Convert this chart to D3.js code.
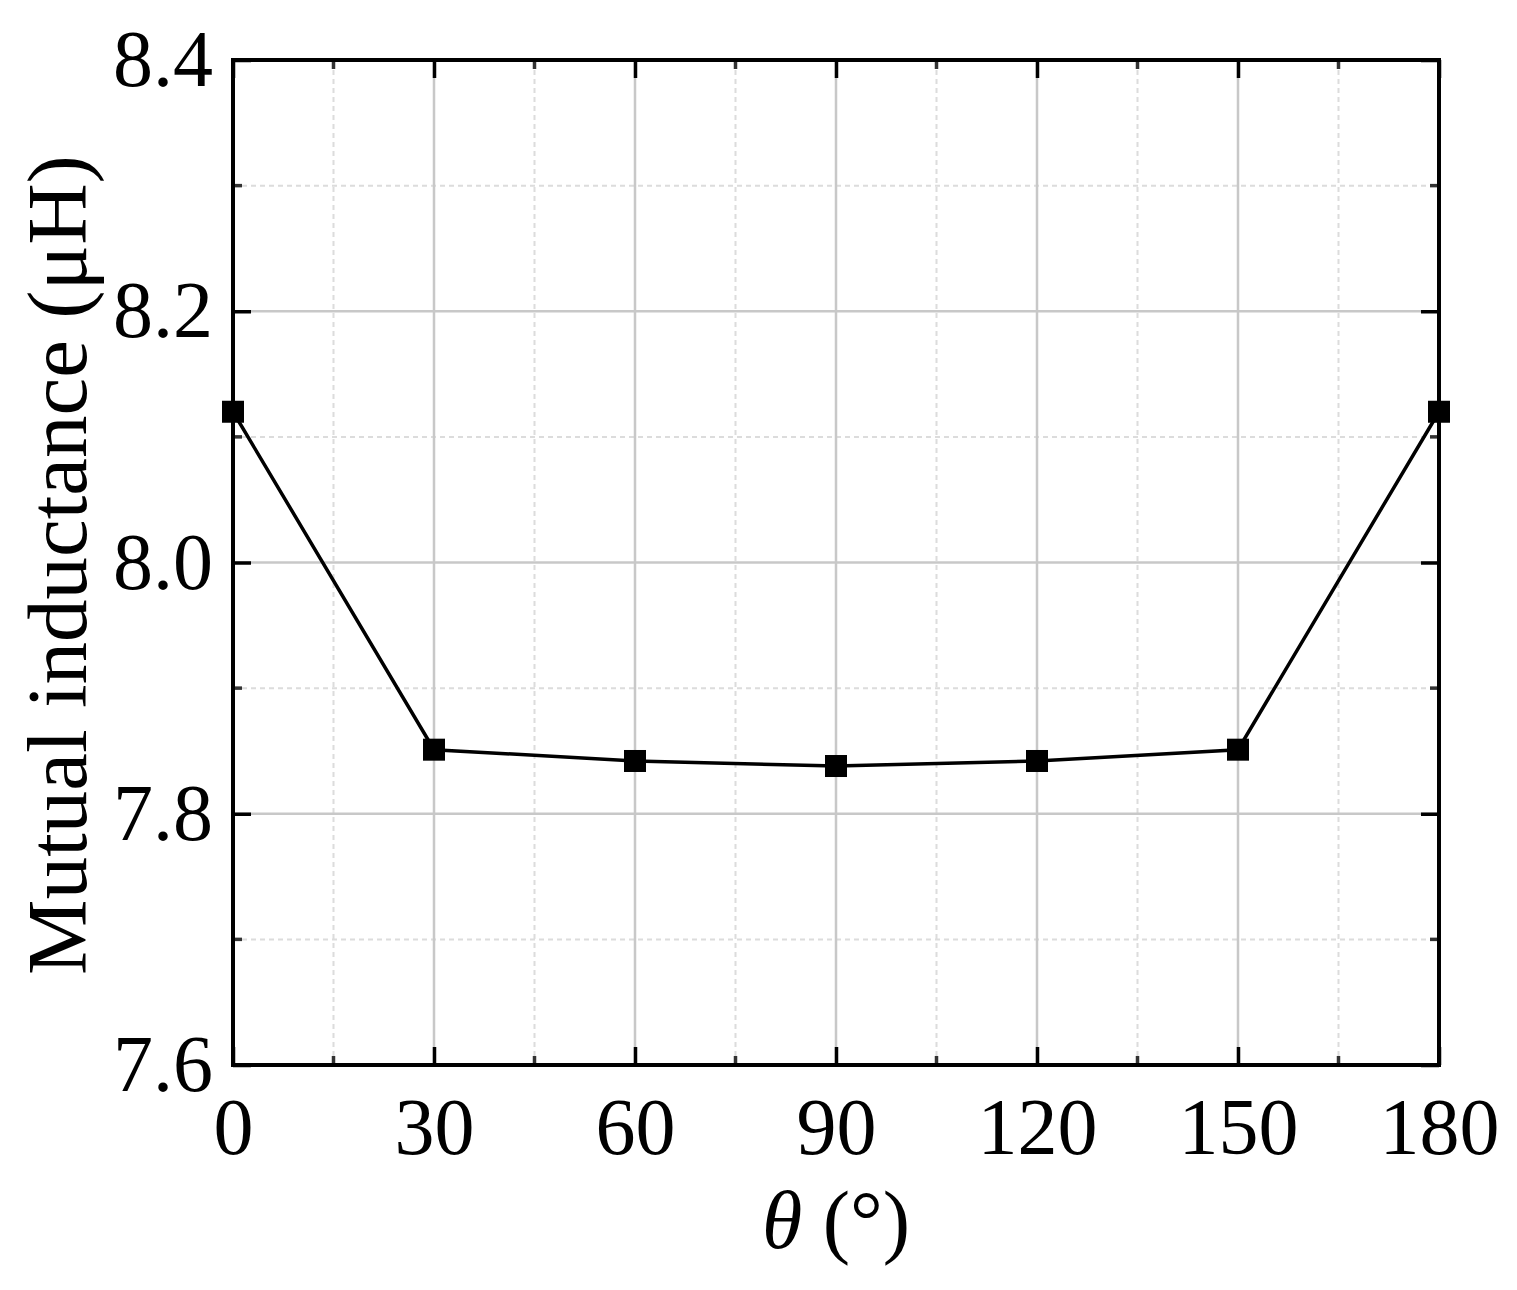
<!DOCTYPE html>
<html>
<head>
<meta charset="utf-8">
<script src="https://cdn.jsdelivr.net/npm/d3@7"></script>
<style>
  body { margin: 0; background: #fff; }
  svg text { font-family: "Liberation Serif", "Times New Roman", serif; fill: #000; }
</style>
</head>
<body>
<div id="chart"><svg width="1517" height="1290"></svg></div>
<script>
const angles = [0, 30, 60, 90, 120, 150, 180];
const inductance = [8.12, 7.851, 7.842, 7.838, 7.842, 7.851, 8.12];
const xTicks = [0, 30, 60, 90, 120, 150, 180];
const yTicks = [7.6, 7.8, 8.0, 8.2, 8.4];

const svg = d3.select("#chart svg");
const margin = { left: 233, right: 78, top: 60, bottom: 225 };
const width = +svg.attr("width");
const height = +svg.attr("height");

const x = d3.scaleLinear().domain([0, 180]).range([margin.left, width - margin.right]);
const y = d3.scaleLinear().domain([7.6, 8.4]).range([height - margin.bottom, margin.top]);

const x0 = x(0), x1 = x(180), y0 = y(7.6), y1 = y(8.4);

// minor grid (dotted)
const xMinor = d3.range(15, 180, 30);
const yMinor = [7.7, 7.9, 8.1, 8.3];
svg.append("g").selectAll("line").data(xMinor).join("line")
    .attr("x1", d => x(d)).attr("x2", d => x(d)).attr("y1", y0).attr("y2", y1)
    .attr("stroke", "#dcdcdc").attr("stroke-width", 2).attr("stroke-dasharray", "5,4");
svg.append("g").selectAll("line").data(yMinor).join("line")
    .attr("y1", d => y(d)).attr("y2", d => y(d)).attr("x1", x0).attr("x2", x1)
    .attr("stroke", "#dcdcdc").attr("stroke-width", 2).attr("stroke-dasharray", "5,4");

// major grid
svg.append("g").selectAll("line").data(xTicks.slice(1, -1)).join("line")
    .attr("x1", d => x(d)).attr("x2", d => x(d)).attr("y1", y0).attr("y2", y1)
    .attr("stroke", "#c8c8c8").attr("stroke-width", 2.5);
svg.append("g").selectAll("line").data(yTicks.slice(1, -1)).join("line")
    .attr("y1", d => y(d)).attr("y2", d => y(d)).attr("x1", x0).attr("x2", x1)
    .attr("stroke", "#c8c8c8").attr("stroke-width", 2.5);

// axes with inward ticks
const fmt = d3.format(".1f");
svg.append("g").attr("transform", `translate(0,${y0})`)
    .call(d3.axisBottom(x).tickValues(xTicks).tickSize(-18).tickPadding(32).tickFormat(d3.format("d")))
    .call(g => g.select(".domain").remove())
    .call(g => g.selectAll("line").attr("stroke-width", 3.5))
    .call(g => g.selectAll("text").attr("font-size", 80).attr("dy", "0.71em")
        .style("font-family", "Liberation Serif"));
svg.append("g").attr("transform", `translate(0,${y1})`)
    .call(d3.axisTop(x).tickValues(xTicks).tickSize(-18).tickFormat(""))
    .call(g => g.select(".domain").remove())
    .call(g => g.selectAll("line").attr("stroke-width", 3.5));
svg.append("g").attr("transform", `translate(${x0},0)`)
    .call(d3.axisLeft(y).tickValues(yTicks).tickSize(-18).tickPadding(20).tickFormat(fmt))
    .call(g => g.select(".domain").remove())
    .call(g => g.selectAll("line").attr("stroke-width", 3.5))
    .call(g => g.selectAll("text").attr("font-size", 80).style("font-family", "Liberation Serif"));
svg.append("g").attr("transform", `translate(${x1},0)`)
    .call(d3.axisRight(y).tickValues(yTicks).tickSize(-18).tickFormat(""))
    .call(g => g.select(".domain").remove())
    .call(g => g.selectAll("line").attr("stroke-width", 3.5));

// minor ticks
svg.append("g").selectAll("line").data(xMinor).join("line")
    .attr("x1", d => x(d)).attr("x2", d => x(d)).attr("y1", y0).attr("y2", y0 - 9)
    .attr("stroke", "#333").attr("stroke-width", 3.5);
svg.append("g").selectAll("line").data(xMinor).join("line")
    .attr("x1", d => x(d)).attr("x2", d => x(d)).attr("y1", y1).attr("y2", y1 + 9)
    .attr("stroke", "#333").attr("stroke-width", 3.5);
svg.append("g").selectAll("line").data(yMinor).join("line")
    .attr("y1", d => y(d)).attr("y2", d => y(d)).attr("x1", x0).attr("x2", x0 + 9)
    .attr("stroke", "#333").attr("stroke-width", 3.5);
svg.append("g").selectAll("line").data(yMinor).join("line")
    .attr("y1", d => y(d)).attr("y2", d => y(d)).attr("x1", x1).attr("x2", x1 - 9)
    .attr("stroke", "#333").attr("stroke-width", 3.5);

// frame
svg.append("rect").attr("x", x0).attr("y", y1).attr("width", x1 - x0).attr("height", y0 - y1)
    .attr("fill", "none").attr("stroke", "#000").attr("stroke-width", 4);

// line + markers
const pts = angles.map((a, i) => ({ a, v: inductance[i] }));
svg.append("path").datum(pts)
    .attr("d", d3.line().x(d => x(d.a)).y(d => y(d.v)))
    .attr("fill", "none").attr("stroke", "#000").attr("stroke-width", 3.5);
svg.append("g").selectAll("rect").data(pts).join("rect")
    .attr("x", d => x(d.a) - 11).attr("y", d => y(d.v) - 11)
    .attr("width", 22).attr("height", 22).attr("fill", "#000");

// axis titles
svg.append("text").attr("x", 836).attr("y", 1248).attr("text-anchor", "middle")
    .attr("font-size", 82)
    .html('<tspan font-style="italic">θ</tspan> (°)');
svg.append("text").attr("transform", `translate(86,565) rotate(-90)`)
    .attr("text-anchor", "middle").attr("font-size", 85)
    .text("Mutual inductance (μH)");
</script>
</body>
</html>
